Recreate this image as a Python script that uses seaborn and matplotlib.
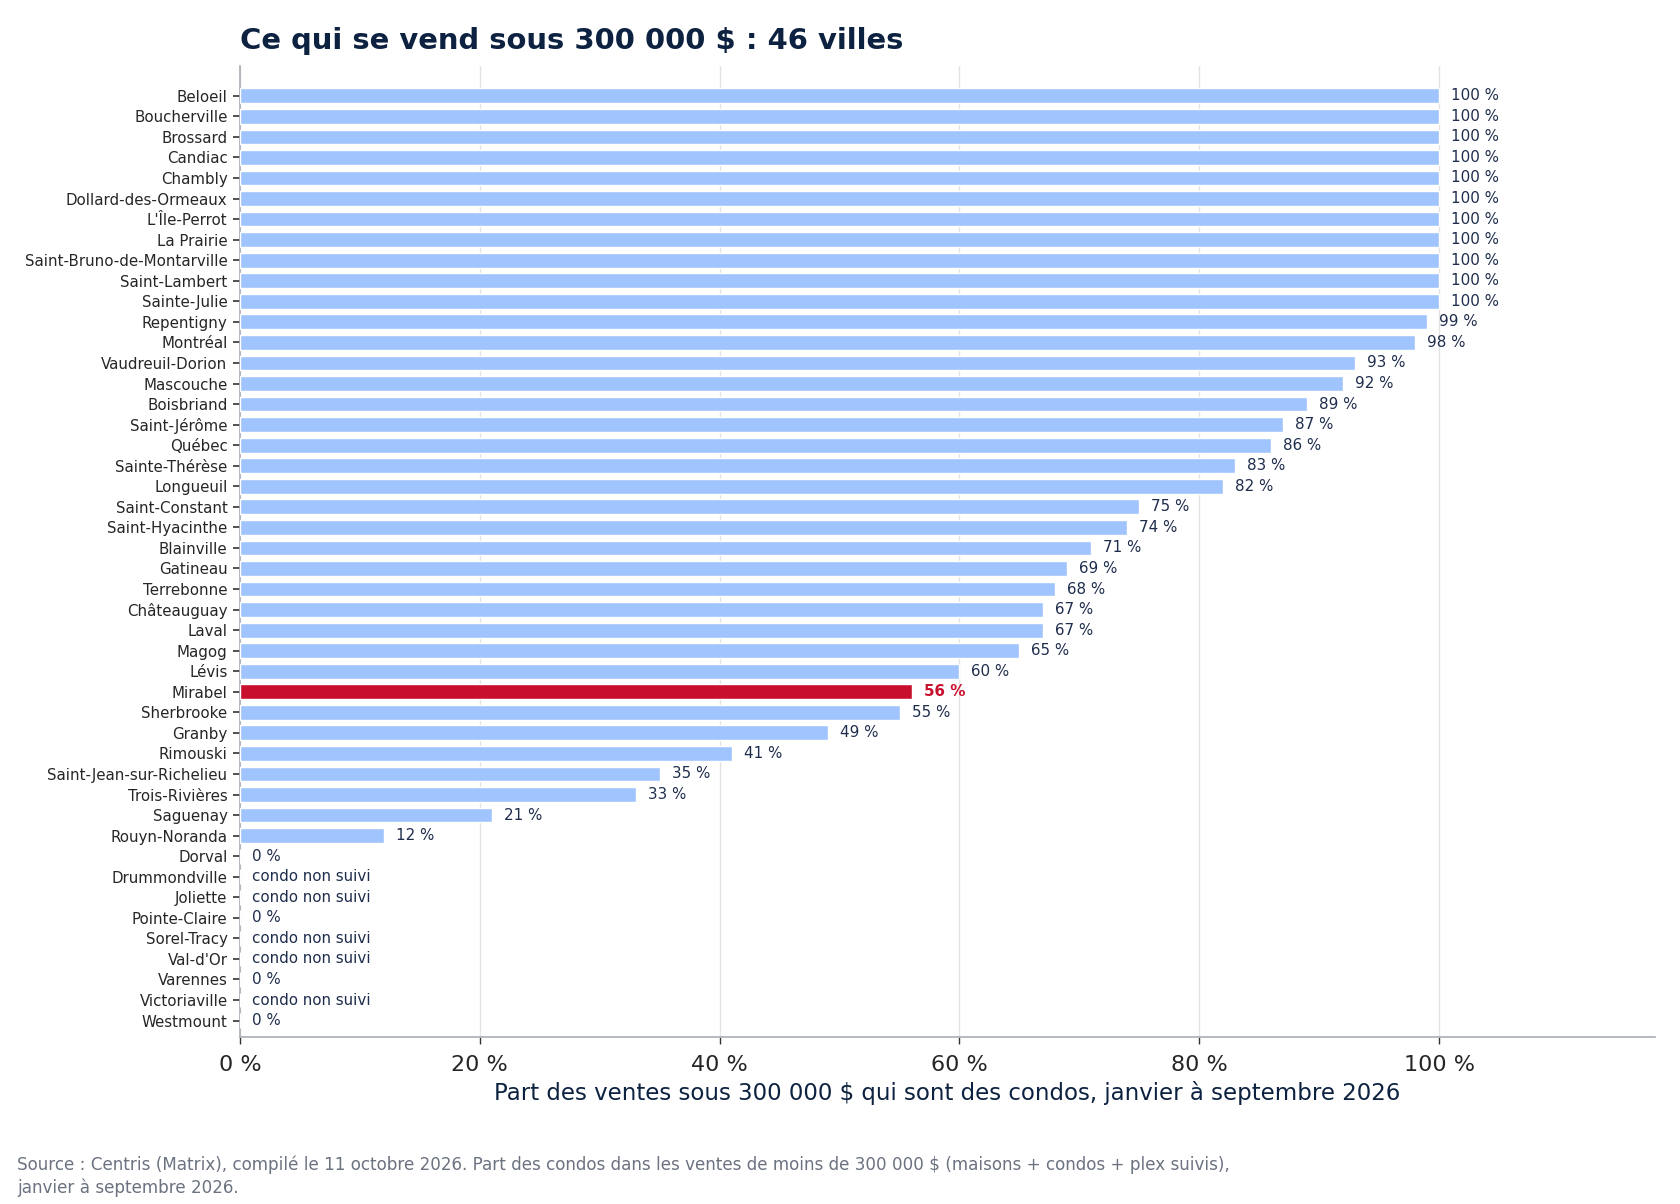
import numpy as np
import pandas as pd
import matplotlib
matplotlib.use("Agg")
import matplotlib.pyplot as plt
import seaborn as sns

villes = ["Beloeil", "Boucherville", "Brossard", "Candiac", "Chambly",
          "Dollard-des-Ormeaux", "L'Île-Perrot", "La Prairie",
          "Saint-Bruno-de-Montarville", "Saint-Lambert", "Sainte-Julie",
          "Repentigny", "Montréal", "Vaudreuil-Dorion", "Mascouche",
          "Boisbriand", "Saint-Jérôme", "Québec", "Sainte-Thérèse",
          "Longueuil", "Saint-Constant", "Saint-Hyacinthe", "Blainville",
          "Gatineau", "Terrebonne", "Châteauguay", "Laval", "Magog", "Lévis",
          "Mirabel", "Sherbrooke", "Granby", "Rimouski",
          "Saint-Jean-sur-Richelieu", "Trois-Rivières", "Saguenay",
          "Rouyn-Noranda", "Dorval", "Drummondville", "Joliette",
          "Pointe-Claire", "Sorel-Tracy", "Val-d'Or", "Varennes",
          "Victoriaville", "Westmount"]
# None = condo non suivi
part_condo = [100, 100, 100, 100, 100, 100, 100, 100, 100, 100, 100,
              99, 98, 93, 92, 89, 87, 86, 83, 82, 75, 74, 71, 69, 68, 67, 67,
              65, 60, 56, 55, 49, 41, 35, 33, 21, 12,
              0, None, None, 0, None, None, 0, None, 0]
ville_vedette = "Mirabel"

df = pd.DataFrame({"ville": villes, "part": part_condo})
df["part_num"] = df["part"].astype(float).fillna(0)
df["groupe"] = np.where(df["ville"] == ville_vedette, "vedette", "autre")

bleu = "#a0c4fd"
rouge = "#c8102e"
marine = "#0d2240"
texte = "#1f2d4d"

sns.set_style("white")
plt.rcParams["font.family"] = ["DejaVu Sans"]

fig = plt.figure(figsize=(16.8, 12.04), dpi=100)
ax = fig.add_axes([240 / 1680, 1 - 1037 / 1204, 1415 / 1680, 971 / 1204])

sns.barplot(data=df, x="part_num", y="ville", hue="groupe",
            palette={"autre": bleu, "vedette": rouge}, orient="h",
            width=0.72, dodge=False, legend=False, saturation=1,
            ax=ax, zorder=3)

for i, row in df.iterrows():
    if pd.isna(row["part"]):
        ax.text(1.0, i, "condo non suivi", va="center", ha="left",
                fontsize=10.9, color=texte)
    elif row["ville"] == ville_vedette:
        ax.text(row["part_num"] + 1.0, i, f"{int(row['part'])} %", va="center",
                ha="left", fontsize=10.9, color=rouge, fontweight="bold")
    else:
        ax.text(row["part_num"] + 1.0, i, f"{int(row['part'])} %", va="center",
                ha="left", fontsize=10.9, color=texte)

ax.set_xlim(0, 118)
ax.set_ylim(45.8, -1.45)
ax.set_xticks([0, 20, 40, 60, 80, 100])
ax.set_xticklabels([f"{t} %" for t in [0, 20, 40, 60, 80, 100]], fontsize=16)
ax.tick_params(axis="y", left=True, labelsize=10.8, length=5, width=1.2,
               pad=4, color="#333333")
ax.tick_params(axis="x", bottom=True, length=5, width=1, color="#333333", pad=8)
ax.xaxis.grid(True, color="#e3e3e3", linewidth=1, zorder=0)
ax.set_axisbelow(True)
ax.set_ylabel("")
ax.set_xlabel("Part des ventes sous 300 000 $ qui sont des condos, janvier à septembre 2026",
              fontsize=16.5, color=marine, labelpad=4)
for s in ["top", "right"]:
    ax.spines[s].set_visible(False)
for s in ["left", "bottom"]:
    ax.spines[s].set_color("#a8adb5")
    ax.spines[s].set_linewidth(1.2)

ax.set_title("Ce qui se vend sous 300 000 $ : 46 villes", loc="left",
             fontsize=20.9, fontweight="bold", color=marine, pad=12)

fig.text(17 / 1680, 1 - 1176 / 1204,
         "Source : Centris (Matrix), compilé le 11 octobre 2026. Part des condos dans les ventes de moins de 300 000 $ (maisons + condos + plex suivis),\njanvier à septembre 2026.",
         fontsize=12.1, color="#6b7280", va="center", ha="left", linespacing=1.3)

fig.savefig("out.png", dpi=100)
